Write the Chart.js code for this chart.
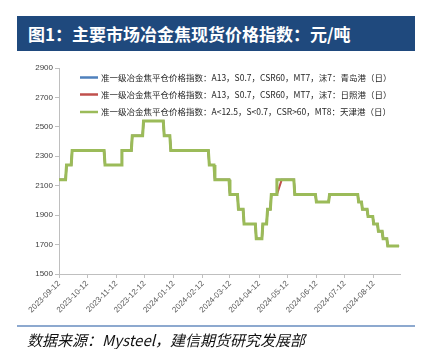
<!DOCTYPE html>
<html>
<head>
<meta charset="utf-8">
<script src="https://cdn.jsdelivr.net/npm/chart.js@4.4.0/dist/chart.umd.min.js"></script>
<style>
  html, body { margin: 0; padding: 0; background: #ffffff; }
  #wrap { position: relative; width: 425px; height: 349px; overflow: hidden; }
  #c { position: absolute; left: 0; top: 0; }
  #title { position: absolute; left: 17px; top: 16px; width: 387px; height: 35px; padding-left: 11px;
    background: #1F497D; color: #ffffff; font: bold 17px "Noto Sans CJK SC", sans-serif; line-height: 35px; white-space: nowrap; }
  #rule { position: absolute; left: 17px; top: 325px; width: 398px; height: 1.5px; background: #8DA9CF; }
  #src { position: absolute; left: 27px; top: 331px; font: italic 15px "Noto Sans CJK SC", sans-serif; color: #111; white-space: nowrap; line-height: 18px; }
</style>
</head>
<body>
<div id="wrap">
  <canvas id="c" width="425" height="349"></canvas>
  <div id="title">图1：主要市场冶金焦现货价格指数：元/吨</div>
  <div id="rule"></div>
  <div id="src">数据来源：Mysteel，建信期货研究发展部</div>
</div>
<script>
// ---- data ----
const startDate = '2023-09-12';
const endDate = '2024-09-08';
const tickLabels = ['2023-09-12','2023-10-12','2023-11-12','2023-12-12','2024-01-12','2024-02-12',
                    '2024-03-12','2024-04-12','2024-05-12','2024-06-12','2024-07-12','2024-08-12'];
const yTicks = [1500, 1700, 1900, 2100, 2300, 2500, 2700, 2900];

const seriesNames = [
  '准一级冶金焦平仓价格指数：A13，S0.7，CSR60，MT7，沫7：青岛港（日）',
  '准一级冶金焦平仓价格指数：A13，S0.7，CSR60，MT7，沫7：日照港（日）',
  '准一级冶金焦平仓价格指数：A<12.5，S<0.7，CSR>60，MT8：天津港（日）'
];

// Tianjin (green) observations at the corners of each price change
const tianjinDates = ['2023-09-12','2023-09-19','2023-09-20','2023-09-25','2023-09-26','2023-10-30','2023-10-31',
  '2023-11-17','2023-11-18','2023-11-28','2023-11-29','2023-12-10','2023-12-11','2024-01-01','2024-01-02',
  '2024-01-08','2024-01-09','2024-02-18','2024-02-19','2024-02-24','2024-02-25','2024-03-11','2024-03-12',
  '2024-03-20','2024-03-21','2024-03-26','2024-03-27','2024-04-08','2024-04-09','2024-04-15','2024-04-16',
  '2024-04-20','2024-04-21','2024-04-24','2024-04-25','2024-04-30','2024-05-01','2024-05-19','2024-05-20',
  '2024-06-11','2024-06-12','2024-06-25','2024-06-26','2024-07-26','2024-07-27','2024-07-30','2024-07-31',
  '2024-08-05','2024-08-06','2024-08-11','2024-08-12','2024-08-16','2024-08-17','2024-08-21','2024-08-22',
  '2024-08-26','2024-08-27','2024-09-08'];
const tianjinValues = [2140,2140,2240,2240,2340,2340,2240,
  2240,2340,2340,2440,2440,2540,2540,2440,
  2440,2340,2340,2240,2240,2140,2140,2040,
  2040,1940,1940,1840,1840,1740,1740,1840,
  1840,1940,1940,2040,2040,2140,2140,2040,
  2040,1990,1990,2040,2040,1990,1990,1940,
  1940,1890,1890,1840,1840,1790,1790,1740,
  1740,1690,1690];

// Rizhao (red): same path except a slower rise at the start of May
const rizhaoDates = ['2023-09-12','2023-09-19','2023-09-20','2023-09-25','2023-09-26','2023-10-30','2023-10-31',
  '2023-11-17','2023-11-18','2023-11-28','2023-11-29','2023-12-10','2023-12-11','2024-01-01','2024-01-02',
  '2024-01-08','2024-01-09','2024-02-18','2024-02-19','2024-02-24','2024-02-25','2024-03-11','2024-03-12',
  '2024-03-20','2024-03-21','2024-03-26','2024-03-27','2024-04-08','2024-04-09','2024-04-15','2024-04-16',
  '2024-04-20','2024-04-21','2024-04-24','2024-04-25','2024-05-01','2024-05-06','2024-05-19','2024-05-20',
  '2024-06-11','2024-06-12','2024-06-25','2024-06-26','2024-07-26','2024-07-27','2024-07-30','2024-07-31',
  '2024-08-05','2024-08-06','2024-08-11','2024-08-12','2024-08-16','2024-08-17','2024-08-21','2024-08-22',
  '2024-08-26','2024-08-27','2024-09-08'];
const rizhaoValues = [2140,2140,2240,2240,2340,2340,2240,
  2240,2340,2340,2440,2440,2540,2540,2440,
  2440,2340,2340,2240,2240,2140,2140,2040,
  2040,1940,1940,1840,1840,1740,1740,1840,
  1840,1940,1940,2040,2040,2140,2140,2040,
  2040,1990,1990,2040,2040,1990,1990,1940,
  1940,1890,1890,1840,1840,1790,1790,1740,
  1740,1690,1690];

// Qingdao (blue): hidden under the other lines
const qingdaoDates = tianjinDates;
const qingdaoValues = tianjinValues;

// ---- helpers ----
const DAY = 86400000;
function dayOf(s) { return (Date.parse(s + 'T00:00:00Z') - Date.parse(startDate + 'T00:00:00Z')) / DAY; }
function pts(dates, values) { return dates.map((d, i) => ({ x: dayOf(d), y: values[i] })); }
const tickDays = tickLabels.map(dayOf);

const colors = ['#4F81BD', '#C0504D', '#9BBB59'];

const legendPlugin = {
  id: 'insideLegend',
  afterDraw(chart) {
    const ctx = chart.ctx;
    const rows = [77.5, 94.5, 112];
    ctx.save();
    ctx.font = '8.5px "Noto Sans CJK SC", sans-serif';
    ctx.textBaseline = 'middle';
    ctx.textAlign = 'left';
    chart.data.datasets.forEach((ds, i) => {
      const y = rows[i];
      ctx.strokeStyle = ds.borderColor;
      ctx.lineWidth = 2.5;
      ctx.beginPath(); ctx.moveTo(80, y); ctx.lineTo(98, y); ctx.stroke();
      ctx.fillStyle = '#262626';
      ctx.fillText(ds.label, 101, y);
    });
    ctx.restore();
  }
};

new Chart(document.getElementById('c'), {
  type: 'line',
  data: {
    datasets: [
      { label: seriesNames[0], data: pts(qingdaoDates, qingdaoValues), borderColor: colors[0], borderWidth: 2, order: 2 },
      { label: seriesNames[1], data: pts(rizhaoDates, rizhaoValues), borderColor: colors[1], borderWidth: 2, order: 1 },
      { label: seriesNames[2], data: pts(tianjinDates, tianjinValues), borderColor: colors[2], borderWidth: 3, order: 0 }
    ]
  },
  options: {
    responsive: false,
    animation: false,
    devicePixelRatio: 1,
    parsing: false,
    elements: { point: { radius: 0 }, line: { tension: 0, borderJoinStyle: 'miter' } },
    layout: { padding: { top: 68, right: 25, left: 0, bottom: 0 } },
    plugins: { legend: { display: false }, tooltip: { enabled: false }, title: { display: false } },
    scales: {
      x: {
        type: 'linear',
        min: 0,
        max: dayOf(endDate) + 1,
        afterBuildTicks(scale) { scale.ticks = tickDays.map(v => ({ value: v })); },
        afterFit(scale) { scale.height = 75; },
        grid: { drawOnChartArea: false, drawTicks: true, tickLength: 4, color: '#BFBFBF' },
        border: { color: '#BFBFBF', width: 1 },
        ticks: {
          autoSkip: false, minRotation: 45, maxRotation: 45, padding: 1,
          font: { size: 8, family: 'Liberation Sans' }, color: '#595959',
          callback(v) { const i = tickDays.indexOf(v); return i >= 0 ? tickLabels[i] : ''; }
        }
      },
      y: {
        min: 1500, max: 2900,
        afterBuildTicks(scale) { scale.ticks = yTicks.map(v => ({ value: v })); },
        afterFit(scale) { scale.width = 59; },
        grid: { drawOnChartArea: false, drawTicks: true, tickLength: 4, color: '#BFBFBF' },
        border: { color: '#BFBFBF', width: 1 },
        ticks: { padding: 2, font: { size: 8, family: 'Liberation Sans' }, color: '#404040',
          callback(v) { return String(v); } }
      }
    }
  },
  plugins: [legendPlugin]
});
</script>
</body>
</html>
